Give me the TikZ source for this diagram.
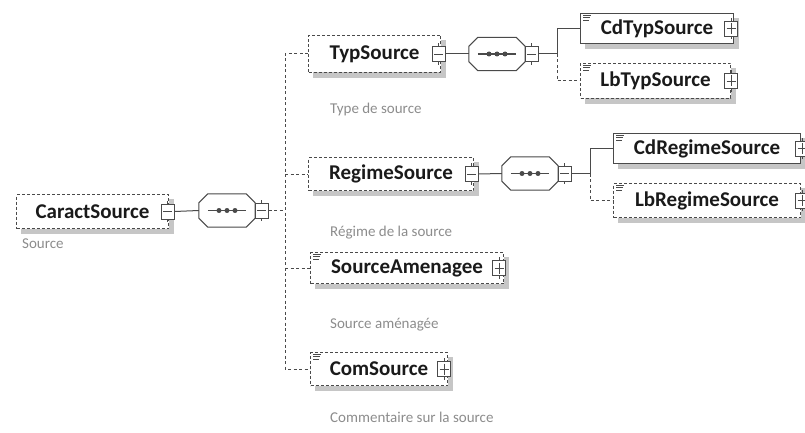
\documentclass[tikz,border=0pt]{standalone}
\usepackage{fontspec}
\setmainfont{Carlito}
\usetikzlibrary{calc,backgrounds}
\definecolor{bord}{HTML}{4A4A4A}
\definecolor{desc}{HTML}{8C8C8C}
\definecolor{shad}{HTML}{C6C6C6}
\definecolor{txt}{HTML}{1A1A1A}
\begin{document}
\begin{tikzpicture}[x=1pt,y=-1pt,
  elem/.style={draw=bord,line width=1pt,fill=white,
    font=\fontsize{21}{21}\selectfont\bfseries,text=txt,inner sep=0pt,anchor=north west},
  optel/.style={elem,dash pattern=on 3pt off 2pt},
  tog/.style={draw=bord,fill=white,line width=0.9pt,minimum width=13pt,minimum height=15pt,inner sep=0pt},
  minusbox/.style={tog,path picture={\draw[bord,line width=0.9pt]
      ([xshift=2pt]path picture bounding box.west) -- ([xshift=-2pt]path picture bounding box.east);}},
  plusbox/.style={tog,path picture={\draw[bord,line width=0.9pt]
      ([xshift=2pt]path picture bounding box.west) -- ([xshift=-2pt]path picture bounding box.east)
      ([yshift=-2pt]path picture bounding box.north) -- ([yshift=2pt]path picture bounding box.south);}},
  seqn/.style={minimum width=56pt,minimum height=33pt,inner sep=0pt},
  octo/.style={draw=bord,line width=1pt,fill=white},
  conn/.style={draw=bord,line width=1pt},
  dsh/.style={conn,dash pattern=on 3pt off 2.5pt},
  descr/.style={font=\fontsize{15}{15}\selectfont,text=desc,anchor=west,inner sep=0pt}
]
\useasboundingbox (0,0) rectangle (805,433);
\clip (0,0) rectangle (805,433);

\newcommand\octpath[2]{% node, options
  \path[#2] ([xshift=9pt]#1.north west) -- ([xshift=-9pt]#1.north east)
    -- ([yshift=-9pt]#1.north east) -- ([yshift=9pt]#1.south east)
    -- ([xshift=-9pt]#1.south east) -- ([xshift=9pt]#1.south west)
    -- ([yshift=9pt]#1.south west) -- ([yshift=-9pt]#1.north west) -- cycle;}
\newcommand\octagon[1]{%
  \octpath{#1}{octo}
  \draw[bord,line width=1.2pt] ([xshift=9pt]#1.west) -- ([xshift=-9pt]#1.east);
  \foreach \d in {-8,0,8} {\fill[bord] ([xshift=\d pt]#1.center) circle (2.5pt);}}
\newcommand\docicon[1]{%
  \foreach \k/\w in {0/8,2.3/7,4.6/6}
    {\draw[bord,line width=0.7pt] ([xshift=3pt,yshift=-2.5pt-\k pt]#1.north west) -- ++(\w,0);}}
\newcommand\stubs[1]{%
  \draw[bord,line width=0.9pt] (#1.north) -- ++(0,-3) (#1.south) -- ++(0,3);}

% ---------- elements ----------
\node[optel,minimum width=152pt,minimum height=34pt] (cs) at (16,194) {CaractSource};
\node[descr] (csd) at (22,244) {Source};

\node[seqn] (s1) at (227,210.5) {};
\node[optel,minimum width=132pt,minimum height=37pt] (typ) at (308,35) {TypSource};
\node[descr] (typd) at (330,110) {Type de source};
\node[seqn] (s2) at (497,54) {};
\node[elem,minimum width=153pt,minimum height=30pt] (cdt) at (580,13) {CdTypSource};
\node[optel,minimum width=150pt,minimum height=35pt] (lbt) at (580,63) {LbTypSource};

\node[optel,minimum width=165pt,minimum height=33pt] (reg) at (308,157) {RegimeSource};
\node[descr] (regd) at (330,233) {Régime de la source};
\node[seqn] (s3) at (530,173.5) {};
\node[elem,minimum width=187pt,minimum height=30pt] (cdr) at (613,133) {CdRegimeSource};
\node[optel,minimum width=187pt,minimum height=34pt] (lbr) at (613,183) {LbRegimeSource};

\node[optel,minimum width=193pt,minimum height=31pt] (ame) at (310,252) {SourceAmenagee};
\node[descr] (amed) at (330,325) {Source aménagée};
\node[optel,minimum width=137pt,minimum height=33pt] (com) at (310,352) {ComSource};
\node[descr] (comd) at (330,417) {Commentaire sur la source};

% shadows
\begin{scope}[on background layer]
  \foreach \n in {cs,typ,cdt,lbt,reg,cdr,lbr,ame,com}
    {\fill[shad] ([shift={(5pt,-5pt)}]\n.south west) rectangle ([shift={(5pt,-5pt)}]\n.north east);}
  \foreach \n in {s1,s2,s3}
    {\octpath{\n}{fill=shad,shift={(5pt,-5pt)}}}
\end{scope}

\octagon{s1}\octagon{s2}\octagon{s3}
\docicon{cdt}\docicon{lbt}\docicon{cdr}\docicon{lbr}\docicon{ame}\docicon{com}

% toggle boxes
\node[minusbox] (csm) at ([xshift=-1.5pt]cs.east) {};
\node[minusbox] (s1m) at ([xshift=6.5pt]s1.east) {};
\node[minusbox] (typm) at ([xshift=-2.5pt]typ.east) {};
\node[minusbox] (s2m) at ([xshift=6.5pt]s2.east) {};
\node[minusbox] (regm) at ([xshift=-2.5pt]reg.east) {};
\node[minusbox] (s3m) at ([xshift=6.5pt]s3.east) {};
\node[plusbox] (cdtp) at ([xshift=-3pt]cdt.east) {};
\node[plusbox] (lbtp) at (lbt.east) {};
\node[plusbox] (cdrp) at ([xshift=1pt]cdr.east) {};
\node[plusbox] (lbrp) at ([xshift=1pt]lbr.east) {};
\node[plusbox] (amep) at ([xshift=-5pt]ame.east) {};
\node[plusbox] (comp) at ([xshift=-4pt]com.east) {};
\foreach \n in {csm,s1m,typm,s2m,regm,s3m,cdtp,lbtp,cdrp,lbrp,amep,comp} {\stubs{\n}}

% ---------- connectors ----------
\coordinate (bus1) at (285,0);
\coordinate (bus2) at (557,0);
\coordinate (bus3) at (590,0);
\draw[conn] (csm.east) -- (s1.west);
\draw[dsh] (s1m.east) -- (s1m.east -| bus1);
\draw[dsh] (typ.west) -- (typ.west -| bus1) -- (com.west -| bus1) -- (com.west);
\draw[dsh] (reg.west -| bus1) -- (reg.west);
\draw[dsh] (ame.west -| bus1) -- (ame.west);

\draw[conn] (typm.east) -- (s2.west);
\draw[conn] (s2m.east) -- (s2m.east -| bus2) |- (cdt.west);
\draw[dsh] (s2m.east -| bus2) |- (lbt.west);

\draw[conn] (regm.east) -- (s3.west);
\draw[conn] (s3m.east) -- (s3m.east -| bus3) |- (cdr.west);
\draw[dsh] (s3m.east -| bus3) |- (lbr.west);
\end{tikzpicture}
\end{document}
